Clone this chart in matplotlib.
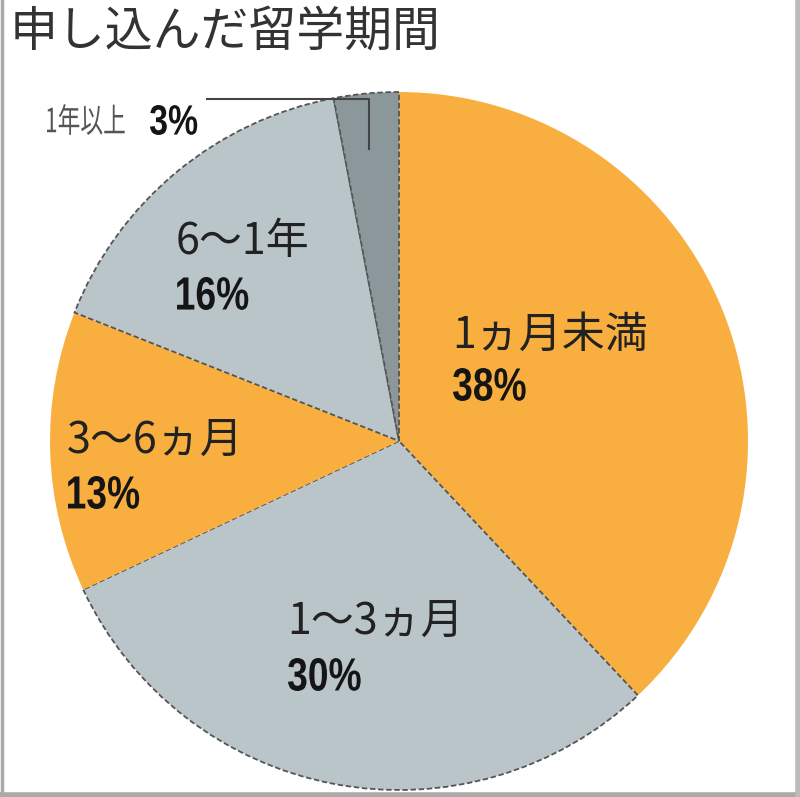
import numpy as np
import matplotlib
matplotlib.use("Agg")
import matplotlib.pyplot as plt
from matplotlib.textpath import TextPath
from matplotlib.patches import PathPatch
from matplotlib.font_manager import FontProperties
from matplotlib.transforms import Affine2D

plt.rcParams['font.family'] = ['Noto Sans CJK JP', 'DejaVu Sans']

# data
labels = ['1ヵ月未満', '1～3ヵ月', '3～6ヵ月', '6～1年', '1年以上']
values = [38, 30, 13, 16, 3]
colors = ['#F9AF40', '#BAC5CA', '#F9AF40', '#BAC5CA', '#8C979C']
edges = ['none', '#555555', 'none', '#555555', '#555555']

W, H = 800, 797
cx, cy, r = 399, 797 - 441, 349

fig = plt.figure(figsize=(W / 100, H / 100), dpi=100)
ax = fig.add_axes([0, 0, 1, 1])

wedges, _ = ax.pie(values, colors=colors, startangle=90, counterclock=False,
                   center=(cx, cy), radius=r, frame=True)
for w, ec in zip(wedges, edges):
    if ec != 'none':
        w.set_edgecolor(ec)
        w.set_linewidth(1.3)
        w.set_linestyle((0, (3, 1.5)))
ax.set_xlim(0, W)
ax.set_ylim(0, H)
ax.set_aspect('equal')
ax.axis('off')


def narrow_text(x, ytop, s, height, xscale, prop, color):
    # draw text as a path so it can be squeezed sideways
    tp = TextPath((0, 0), s, size=1, prop=prop)
    ext = tp.get_extents()
    sy = height / ext.height
    tr = Affine2D().translate(-ext.x0, -ext.y1).scale(sy * xscale, sy).translate(x, H - ytop)
    ax.add_patch(PathPatch(tr.transform_path(tp), fc=color, ec='none', lw=0))


pct_prop = FontProperties(family='Liberation Sans', weight='bold')

# labels (left x, label centre y, percent top y) in pixels from top-left
pos = {0: (453, 336, 368), 1: (288, 622, 658), 2: (68, 441, 476), 3: (177, 242, 277)}
for i, (x, y, ptop) in pos.items():
    ax.text(x - 1, H - y, labels[i], fontsize=31, color='#222222', va='center', ha='left')
    narrow_text(x, ptop, f'{values[i]}%', 33, 0.8, pct_prop, '#151515')

# small slice label with leader
narrow_text(47, 104, labels[4], 31, 0.68,
            FontProperties(family='Noto Sans CJK JP'), '#555555')
narrow_text(150, 105, f'{values[4]}%', 30, 0.8, pct_prop, '#151515')
mid = np.deg2rad(90 - 360 * (sum(values[:4]) + values[4] / 2) / 100)
lx = cx + 0.9 * r * np.cos(mid)
ly = cy + 0.84 * r * np.sin(mid)
ax.plot([207, lx, lx], [H - 99, H - 99, ly], color='#444444', lw=1.5)

# title
ax.text(10, H - 32, '申し込んだ留学期間', fontsize=34.5, color='#333333', va='center', ha='left')

# frame
ax.plot([1.5, 1.5], [H, 2.5], color='#AAAAAA', lw=2.5)
ax.plot([0, W], [2.5, 2.5], color='#AAAAAA', lw=4)
ax.plot([W - 2, W - 2], [H, 0], color='#BBBBBB', lw=4)

fig.savefig('out.png', dpi=100)
